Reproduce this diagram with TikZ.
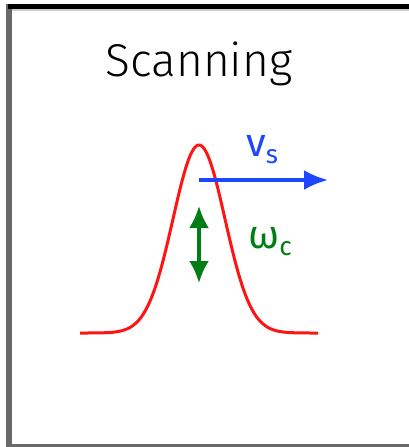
\documentclass[tikz,border=0pt]{standalone}
\usepackage{fontspec}
\setmainfont{Fira Sans Light}
\newfontfamily\labelfont{Fira Sans}
\usetikzlibrary{arrows.meta}
\definecolor{pulsrot}{RGB}{255,20,20}
\definecolor{scanblau}{RGB}{30,70,255}
\definecolor{feldgruen}{RGB}{0,125,20}
\definecolor{rahmengrau}{RGB}{105,105,105}
\begin{document}
\begin{tikzpicture}[x=1pt,y=-1pt,
  titel/.style={font=\fontsize{46}{52}\selectfont},
  beschr/.style={font=\labelfont\fontsize{40}{44}\selectfont}]

% Rahmen
\useasboundingbox (0,0) rectangle (409,447);
\fill[rahmengrau] (6,4) rectangle (12,447);
\fill[black] (8,4) rectangle (409,9);
\fill[black!20] (12,9) rectangle (409,11);
\fill[rahmengrau] (9,444) rectangle (409,446.5);

% Titel
\node[titel] (titel) at (199,64) {Scanning};

% Gausspuls
\draw[pulsrot,line width=3pt,domain=80:318,samples=120]
  plot (\x,{333-188*exp(-((\x-199)/26)^2/2)});

% Geschwindigkeit
\coordinate (vstart) at (199,180);
\coordinate (vende) at (328,180);
\draw[scanblau,line width=3.5pt,-{Latex[length=24pt,width=20pt]}] (vstart) -- (vende);
\node[beschr,text=scanblau] (vs) at (262,150) {v\raisebox{-7pt}{\fontsize{26}{28}\selectfont s}};

% Frequenz
\coordinate (woben) at (199,206);
\coordinate (wunten) at (199,283);
\draw[feldgruen,line width=3.5pt,{Latex[length=22pt,width=20pt]}-{Latex[length=22pt,width=20pt]}] (woben) -- (wunten);
\node[beschr,text=feldgruen] (wc) at (270,242) {ω\raisebox{-7pt}{\fontsize{26}{28}\selectfont c}};

\end{tikzpicture}
\end{document}
